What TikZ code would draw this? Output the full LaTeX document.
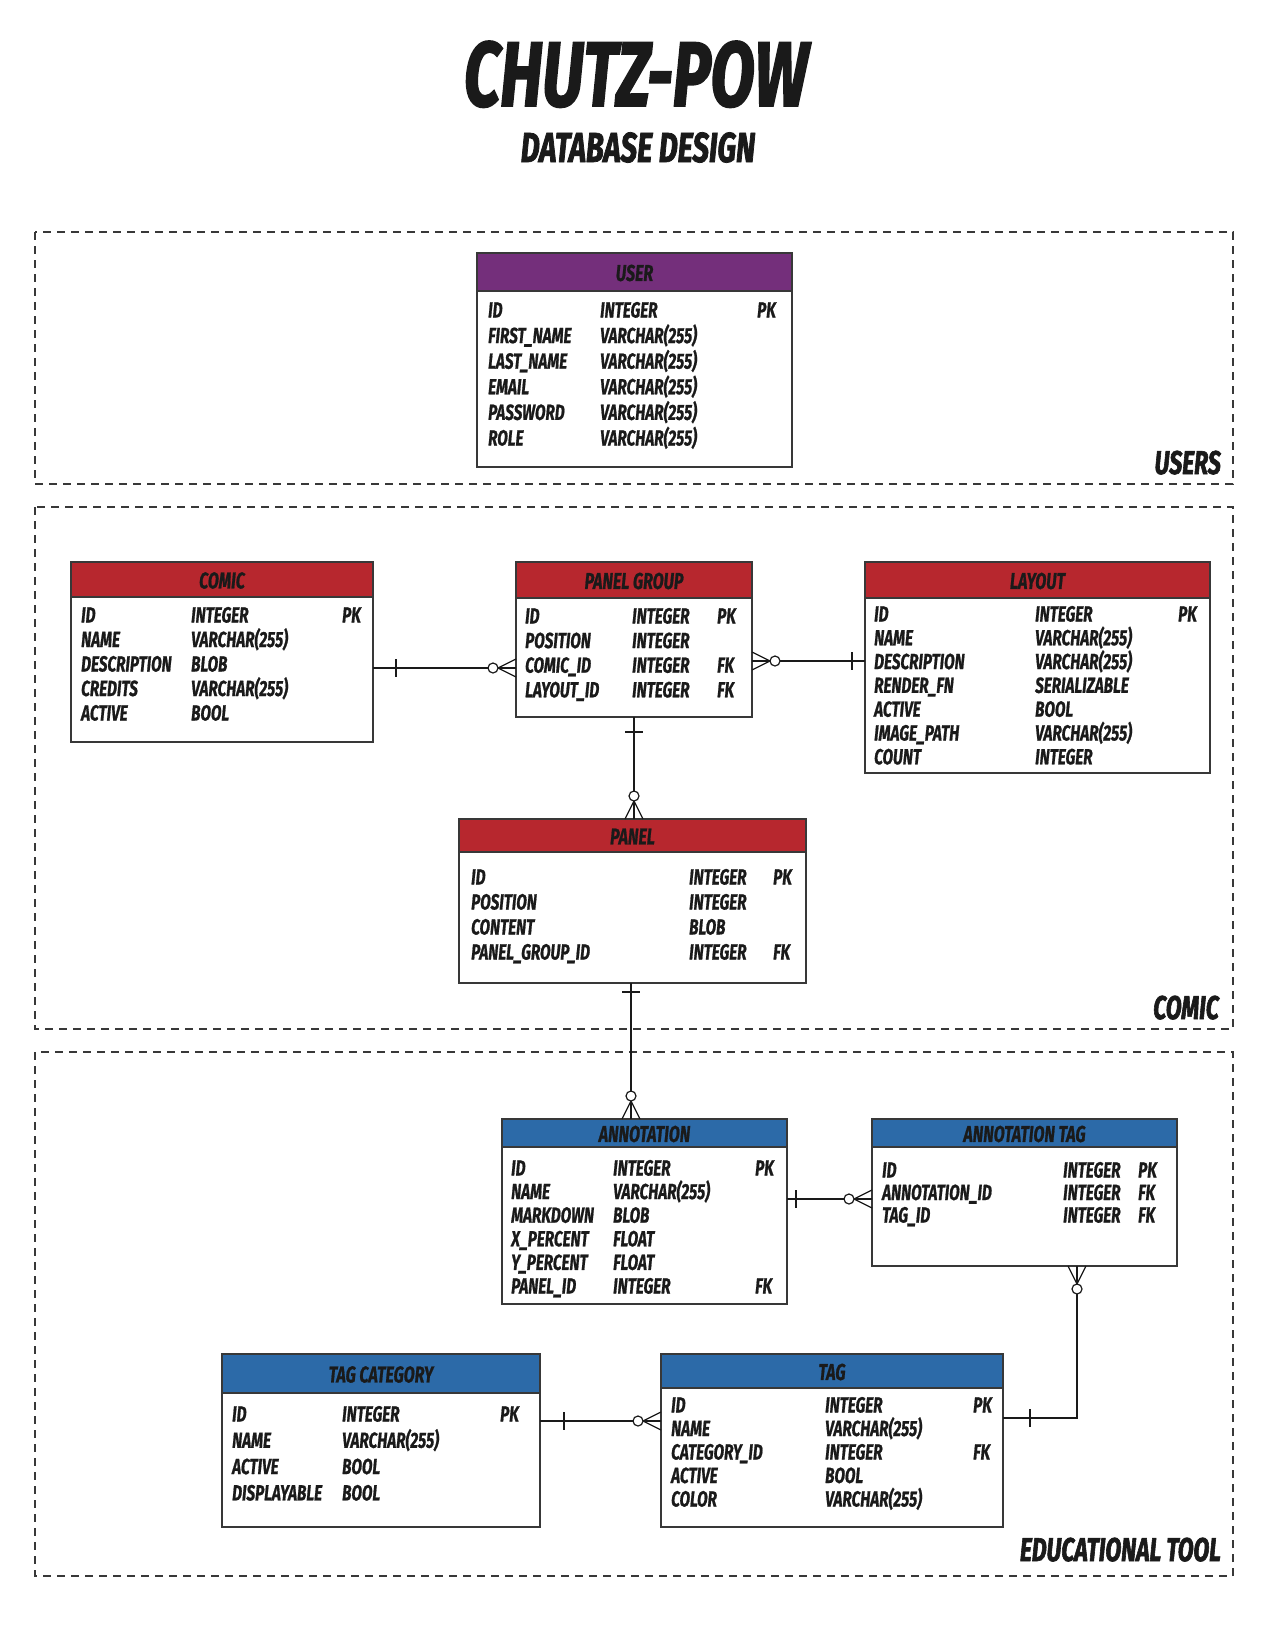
\documentclass[tikz,border=0pt]{standalone}
\usepackage{fontspec}
\newfontfamily\comicfont[FakeStretch=0.7,FakeBold=0.8]{Fira Sans}
\newfontfamily\titlefont[FakeStretch=0.7,FakeBold=1.8]{Fira Sans}
\usetikzlibrary{calc}
\definecolor{userpurple}{HTML}{742F7B}
\definecolor{comicred}{HTML}{B7272E}
\definecolor{edublue}{HTML}{2C6AA8}
\definecolor{boxline}{HTML}{383838}
\definecolor{ink}{HTML}{1A1A1A}
\tikzset{
  tablebox/.style={draw=boxline, line width=1.4bp, inner sep=0pt, outer sep=0pt, anchor=north west},
  fieldtext/.style={inner sep=0pt, anchor=base west, text=ink, font=\comicfont\bfseries\itshape\fontsize{22}{22}\selectfont},
  headtext/.style={inner sep=0pt, anchor=center, text=ink, font=\comicfont\bfseries\itshape\fontsize{23}{23}\selectfont},
  sectionbox/.style={draw=boxline, line width=1.3bp, dash pattern=on 8bp off 6bp},
  sectionlabel/.style={inner sep=0pt, anchor=base east, text=ink, font=\titlefont\bfseries\itshape\fontsize{33}{33}\selectfont},
  rel/.style={draw=ink, line width=1.2bp},
  manyend/.pic={\draw[rel] (0,-9) -- (18,0) (0,0) -- (18,0) (0,9) -- (18,0);
                \draw[rel, fill=white] (23,0) circle[radius=5bp];},
  oneend/.pic={\draw[rel] (0,-9) -- (0,9);}
}
% #1 name, #2 x1, #3 y1, #4 x2, #5 y2, #6 header bottom, #7 colour, #8 title
\newcommand\erbox[8]{%
  \node[tablebox, fill=white, minimum width={(#4-#2)*1bp}, minimum height={(#5-#3)*1bp}] (#1) at (#2,#3) {};
  \fill[#7] (#2,#3) rectangle (#4,#6);
  \draw[boxline, line width=1.4bp] (#2,#6) -- (#4,#6);
  \draw[boxline, line width=1.4bp] (#2,#3) rectangle (#4,#5);
  \node[headtext] (#1-title) at ({(#2+#4)/2},{(#3+#6)/2+1}) {#8};
}
% #1 name, #2 x names, #3 x types, #4 x keys, #5 first row centre, #6 row step, #7 rows
\newcommand\errows[7]{%
  \foreach \na/\ty/\ke [count=\i] in {#7} {
    \node[fieldtext] (#1-\i-n) at (#2,{#5+(\i-1)*#6+7.5}) {\na};
    \node[fieldtext] (#1-\i-t) at (#3,{#5+(\i-1)*#6+7.5}) {\ty};
    \ifnum\strcmp{\ke}{-}=0 \else
      \node[fieldtext] (#1-\i-k) at (#4,{#5+(\i-1)*#6+7.5}) {\ke};
    \fi
  }
}
\begin{document}
\begin{tikzpicture}[x=1bp,y=-1bp]
\useasboundingbox (0,0) rectangle (1275,1650);
\fill[white] (0,0) rectangle (1275,1650);

% title
\node[inner sep=0pt, anchor=base, text=ink, font=\titlefont\bfseries\itshape\fontsize{92}{92}\selectfont] (title) at (636,106) {CHUTZ-POW};
\node[inner sep=0pt, anchor=base, text=ink, font=\titlefont\bfseries\itshape\fontsize{42}{42}\selectfont] (subtitle) at (638,162) {DATABASE DESIGN};

% sections
\draw[sectionbox] (35,232) rectangle (1233,484);
\draw[sectionbox] (35,507) rectangle (1233,1029);
\draw[sectionbox] (35,1052) rectangle (1233,1576);
\node[sectionlabel] (lab-users) at (1221,474) {USERS};
\node[sectionlabel] (lab-comic) at (1219,1019) {COMIC};
\node[sectionlabel] (lab-edu) at (1221,1561) {EDUCATIONAL TOOL};

% tables
\erbox{user}{477}{253}{792}{467}{291}{userpurple}{USER}
\errows{user}{488}{600}{757}{310}{25.6}{ID/INTEGER/PK, FIRST\_NAME/VARCHAR(255)/-, LAST\_NAME/VARCHAR(255)/-, EMAIL/VARCHAR(255)/-, PASSWORD/VARCHAR(255)/-, ROLE/VARCHAR(255)/-}

\erbox{comic}{71}{562}{373}{742}{597}{comicred}{COMIC}
\errows{comic}{81}{191}{342}{615}{24.5}{ID/INTEGER/PK, NAME/VARCHAR(255)/-, DESCRIPTION/BLOB/-, CREDITS/VARCHAR(255)/-, ACTIVE/BOOL/-}

\erbox{pg}{516}{562}{752}{717}{598}{comicred}{PANEL GROUP}
\errows{pg}{525}{632}{717}{616}{24.6}{ID/INTEGER/PK, POSITION/INTEGER/-, COMIC\_ID/INTEGER/FK, LAYOUT\_ID/INTEGER/FK}

\erbox{layout}{865}{562}{1210}{773}{598}{comicred}{LAYOUT}
\errows{layout}{874}{1035}{1178}{614}{23.8}{ID/INTEGER/PK, NAME/VARCHAR(255)/-, DESCRIPTION/VARCHAR(255)/-, RENDER\_FN/SERIALIZABLE/-, ACTIVE/BOOL/-, IMAGE\_PATH/VARCHAR(255)/-, COUNT/INTEGER/-}

\erbox{panel}{459}{819}{806}{983}{852}{comicred}{PANEL}
\errows{panel}{471}{689}{773}{877}{25}{ID/INTEGER/PK, POSITION/INTEGER/-, CONTENT/BLOB/-, PANEL\_GROUP\_ID/INTEGER/FK}

\erbox{annot}{502}{1119}{787}{1304}{1147}{edublue}{ANNOTATION}
\errows{annot}{511}{613}{755}{1168}{23.6}{ID/INTEGER/PK, NAME/VARCHAR(255)/-, MARKDOWN/BLOB/-, X\_PERCENT/FLOAT/-, Y\_PERCENT/FLOAT/-, PANEL\_ID/INTEGER/FK}

\erbox{atag}{872}{1119}{1177}{1266}{1147}{edublue}{ANNOTATION TAG}
\errows{atag}{882}{1063}{1138}{1170}{22.5}{ID/INTEGER/PK, ANNOTATION\_ID/INTEGER/FK, TAG\_ID/INTEGER/FK}

\erbox{tagcat}{222}{1354}{540}{1527}{1393}{edublue}{TAG CATEGORY}
\errows{tagcat}{232}{342}{500}{1414}{26.3}{ID/INTEGER/PK, NAME/VARCHAR(255)/-, ACTIVE/BOOL/-, DISPLAYABLE/BOOL/-}

\erbox{tag}{661}{1354}{1003}{1527}{1388}{edublue}{TAG}
\errows{tag}{671}{825}{973}{1405}{23.5}{ID/INTEGER/PK, NAME/VARCHAR(255)/-, CATEGORY\_ID/INTEGER/FK, ACTIVE/BOOL/-, COLOR/VARCHAR(255)/-}

% relationships
% comic -> panel group
\coordinate (r1a) at ($(comic.north east)+(0,106)$);
\coordinate (r1b) at (pg.west |- r1a);
\draw[rel] (r1a) -- (r1b);
\pic at ($(r1a)+(23,0)$) {oneend};
\pic[rotate=180] at (r1b) {manyend};

% panel group -> layout
\coordinate (r2a) at ($(pg.north east)+(0,99)$);
\coordinate (r2b) at (layout.west |- r2a);
\draw[rel] (r2a) -- (r2b);
\pic at (r2a) {manyend};
\pic at ($(r2b)+(-13,0)$) {oneend};

% panel group -> panel
\coordinate (r3a) at (pg.south);
\coordinate (r3b) at (r3a |- panel.north);
\draw[rel] (r3a) -- (r3b);
\pic[rotate=90] at ($(r3a)+(0,15)$) {oneend};
\pic[rotate=90] at (r3b) {manyend};

% panel -> annotation
\coordinate (r4a) at ($(panel.south)+(-1.5,0)$);
\coordinate (r4b) at (r4a |- annot.north);
\draw[rel] (r4a) -- (r4b);
\pic[rotate=90] at ($(r4a)+(0,9)$) {oneend};
\pic[rotate=90] at (r4b) {manyend};

% annotation -> annotation tag
\coordinate (r5a) at ($(annot.north east)+(0,80)$);
\coordinate (r5b) at (atag.west |- r5a);
\draw[rel] (r5a) -- (r5b);
\pic at ($(r5a)+(9,0)$) {oneend};
\pic[rotate=180] at (r5b) {manyend};

% tag -> annotation tag
\coordinate (r6a) at ($(tag.north east)+(0,64)$);
\coordinate (r6q) at ($(atag.south west)+(205,0)$);
\coordinate (r6c) at (r6q |- r6a);
\draw[rel] (r6a) -- (r6c) -- (r6q);
\pic at ($(r6a)+(27,0)$) {oneend};
\pic[rotate=-90] at (r6q) {manyend};

% tag category -> tag
\coordinate (r7a) at ($(tagcat.north east)+(0,67)$);
\coordinate (r7b) at (tag.west |- r7a);
\draw[rel] (r7a) -- (r7b);
\pic at ($(r7a)+(24,0)$) {oneend};
\pic[rotate=180] at (r7b) {manyend};
\end{tikzpicture}
\end{document}
